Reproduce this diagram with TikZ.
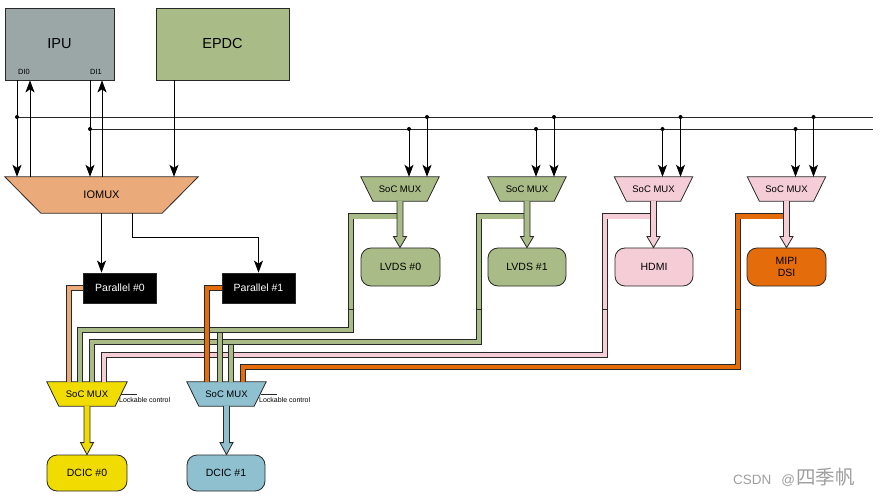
\documentclass[tikz,border=0pt]{standalone}
\usepackage{fontspec}
\setmainfont{Liberation Sans}
\newfontfamily\cjkfont{Noto Sans CJK SC}
\usetikzlibrary{arrows.meta,calc,backgrounds}
\definecolor{cipu}{RGB}{155,166,166}
\definecolor{cgreen}{RGB}{169,187,134}
\definecolor{cpink}{RGB}{244,205,214}
\definecolor{corange}{RGB}{228,108,10}
\definecolor{clorange}{RGB}{235,170,122}
\definecolor{cyellow}{RGB}{240,220,0}
\definecolor{cblue}{RGB}{142,192,208}
\definecolor{cline}{RGB}{40,40,40}
\newcommand\trapz[3]{\draw[trapd,fill=#3] (#1.north west) -- (#1.north east) -- ([xshift=-#2]#1.south east) -- ([xshift=#2]#1.south west) -- cycle;}
\newcommand\fatarr[4]{%
  \draw[fatd,fill=#3] ($(#1.south)+(-3,0)$) -- ($(#1.south |- #2.north)+(-3,-#4)$) -- ($(#1.south |- #2.north)+(-6.5,-#4)$) -- (#1.south |- #2.north) -- ($(#1.south |- #2.north)+(6.5,-#4)$) -- ($(#1.south |- #2.north)+(3,-#4)$) -- ($(#1.south)+(3,0)$);}
\begin{document}
\begin{tikzpicture}[x=1pt,y=-1pt,
  box/.style={draw=cline,line width=0.8pt,inner sep=0pt,align=center},
  rbox/.style={box,rounded corners=10pt},
  big/.style={font=\fontsize{14.5}{16}\selectfont},
  mid/.style={font=\fontsize{10.5}{13}\selectfont},
  muxn/.style={inner sep=0pt,minimum height=24pt,font=\fontsize{9.5}{11}\selectfont},
  lbl/.style={inner sep=0pt,font=\fontsize{7.5}{9}\selectfont},
  lock/.style={inner sep=0pt,font=\fontsize{7}{8}\selectfont},
  trapd/.style={draw=cline,line width=0.8pt,line join=miter},
  fatd/.style={draw=cline,line width=0.8pt,line join=miter},
  arr/.style={draw=black,line width=0.8pt,-{Stealth[length=12pt,width=9pt,inset=3pt]}},
  thinl/.style={draw=cline,line width=0.8pt},
  pipe/.style={draw=cline,line width=0.8pt,double=#1,double distance=4.8pt,line join=miter},
  dot/.style={fill=black}
]
\useasboundingbox (0,0) rectangle (881,497);

% ---------- nodes ----------
\node[box,fill=cipu,big,minimum width=109pt,minimum height=72pt] (ipu) at (59.5,44) {IPU};
\node[box,fill=cgreen,big,minimum width=133pt,minimum height=72pt] (epdc) at (222.5,44) {EPDC};
\node[lbl] (di0) at (24,72) {DI0};
\node[lbl] (di1) at (96,72) {DI1};

\node[inner sep=0pt,minimum width=193pt,minimum height=36pt,font=\fontsize{11}{13}\selectfont] (iomux) at (101.5,195) {IOMUX};

\node[box,fill=black,text=white,mid,minimum width=73pt,minimum height=30pt] (par0) at (120,288) {Parallel \#0};
\node[box,fill=black,text=white,mid,minimum width=73pt,minimum height=30pt] (par1) at (258.5,288) {Parallel \#1};

\node[muxn,minimum width=78pt] (tm1) at (400,189) {SoC MUX};
\node[muxn,minimum width=78pt] (tm2) at (527,189) {SoC MUX};
\node[muxn,minimum width=78pt] (tm3) at (653.5,189) {SoC MUX};
\node[muxn,minimum width=78pt] (tm4) at (786.5,189) {SoC MUX};

\node[rbox,fill=cgreen,mid,minimum width=79pt,minimum height=38pt] (lvds0) at (400.5,267) {LVDS \#0};
\node[rbox,fill=cgreen,mid,minimum width=78pt,minimum height=38pt] (lvds1) at (527,267) {LVDS \#1};
\node[rbox,fill=cpink,mid,minimum width=78pt,minimum height=38pt] (hdmi) at (654,267) {HDMI};
\node[rbox,fill=corange,mid,minimum width=79pt,minimum height=38pt] (mipi) at (786.5,267) {MIPI\\[-1pt]DSI};

\node[muxn,minimum width=80pt] (bm0) at (87,394) {SoC MUX};
\node[muxn,minimum width=79pt] (bm1) at (226.5,394) {SoC MUX};

\node[rbox,fill=cyellow,mid,minimum width=80pt,minimum height=36pt] (dc0) at (87,473) {DCIC \#0};
\node[rbox,fill=cblue,mid,minimum width=78pt,minimum height=36pt] (dc1) at (226,473) {DCIC \#1};

\node[lock,anchor=west] (lk0) at ([shift={(32,6)}]bm0.center) {Lockable control};
\node[lock,anchor=west] (lk1) at ([shift={(32.5,6)}]bm1.center) {Lockable control};

\node[anchor=base west,inner sep=0pt,text=black!38] (wm) at (733,484)
  {\fontsize{13.5}{16}\selectfont CSDN\hspace{10pt}@\hspace{1pt}{\cjkfont\fontsize{19.5}{20}\selectfont 四季帆}};

% ---------- trapezoid shapes ----------
\begin{scope}[on background layer]
  \trapz{iomux}{36pt}{clorange}
  \trapz{tm1}{12pt}{cgreen}
  \trapz{tm2}{12pt}{cgreen}
  \trapz{tm3}{12pt}{cpink}
  \trapz{tm4}{12pt}{cpink}
  \trapz{bm0}{12pt}{cyellow}
  \trapz{bm1}{12pt}{cblue}
\end{scope}

% ---------- buses and thin arrows ----------
\coordinate (j0) at (17,117);
\coordinate (u0) at (30,117);
\coordinate (j1) at (90,129);
\coordinate (u1) at (102,129);
\coordinate (e0) at (174,117);
\coordinate (busA) at (873,117);
\coordinate (busB) at (873,129);

\draw[thinl] (j0) -- (busA);
\draw[thinl] (j1) -- (busB);
\draw[arr] (j0 |- ipu.south) -- (j0 |- iomux.north);
\draw[arr] (u0 |- iomux.north) -- (u0 |- ipu.south);
\draw[arr] (j1 |- ipu.south) -- (j1 |- iomux.north);
\draw[arr] (u1 |- iomux.north) -- (u1 |- ipu.south);
\draw[arr] (e0 |- epdc.south) -- (e0 |- iomux.north);
\fill[dot] (j0) circle[radius=2pt];
\fill[dot] (j1) circle[radius=2pt];

\coordinate (a1) at (409,129);   \coordinate (b1) at (427,117);
\coordinate (a2) at (536,129);   \coordinate (b2) at (554,117);
\coordinate (a3) at (662.5,129); \coordinate (b3) at (680.5,117);
\coordinate (a4) at (795.5,129); \coordinate (b4) at (813.5,117);
\foreach \n in {1,2,3,4}{
  \draw[arr] (a\n) -- (a\n |- tm\n.north);
  \draw[arr] (b\n) -- (b\n |- tm\n.north);
  \fill[dot] (a\n) circle[radius=2pt];
  \fill[dot] (b\n) circle[radius=2pt];
}

\draw[arr] (iomux.south) -- (iomux.south |- par0.north);
\draw[arr] ([xshift=30.5pt]iomux.south) -- ++(0,24) -| (par1.north);

% ---------- pipes ----------
\draw[pipe=cgreen] ([shift={(-3,15)}]tm1.south) -| (351,330) -| ([xshift=-7pt]bm0.north);
\draw[pipe=cgreen] ([shift={(-3,15)}]tm2.south) -| (479,342) -| ([xshift=5pt]bm0.north);
\draw[pipe=cpink] ([shift={(-3,15)}]tm3.south) -| (605,355) -| ([xshift=17pt]bm0.north);
\draw[pipe=corange] ([shift={(-3,15)}]tm4.south) -| (738,367) -| ([xshift=16.5pt]bm1.north);
\draw[pipe=cgreen] ([shift={(-6.5,-49)}]bm1.north) -- ([xshift=-6.5pt]bm1.north);
\draw[pipe=cgreen] ([shift={(4.5,-37)}]bm1.north) -- ([xshift=4.5pt]bm1.north);
\draw[pipe=clorange] (par0.west) -| ([xshift=-18pt]bm0.north);
\draw[pipe=corange] (par1.west) -| ([xshift=-19.5pt]bm1.north);
\foreach \x in {351,479,605,738}{
  \draw[line width=0.6pt,draw=cline] (\x-3,309) -- (\x+3,309);
}

% ---------- fat arrows ----------
\fatarr{tm1}{lvds0}{cgreen}{11}
\fatarr{tm2}{lvds1}{cgreen}{11}
\fatarr{tm3}{hdmi}{cpink}{11}
\fatarr{tm4}{mipi}{cpink}{11}
\fatarr{bm0}{dc0}{cyellow}{12}
\fatarr{bm1}{dc1}{cblue}{12}

% ---------- lockable control lines ----------
\draw[line width=0.7pt,draw=cline] ([xshift=34pt]bm0.center) -- ([xshift=50pt]bm0.center);
\draw[line width=0.7pt,draw=cline] ([xshift=34pt]bm1.center) -- ([xshift=50.5pt]bm1.center);
\end{tikzpicture}
\end{document}
